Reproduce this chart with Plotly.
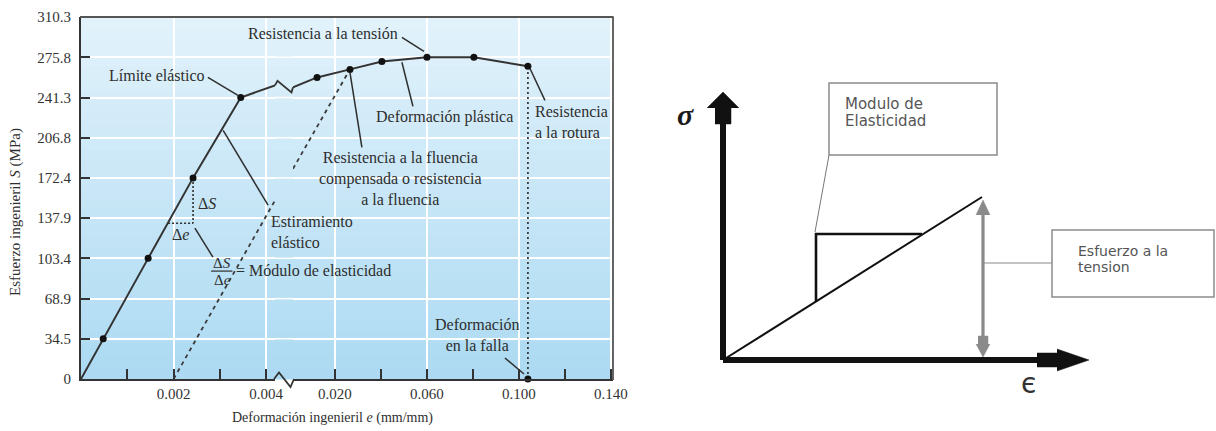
import plotly.graph_objects as go

W, H = 1216, 431

# ---------------- data: engineering stress-strain chart ----------------
stress_ticks = [0, 34.5, 68.9, 103.4, 137.9, 172.4, 206.8, 241.3, 275.8, 310.3]
stress_tick_labels = ["0", "34.5", "68.9", "103.4", "137.9", "172.4", "206.8", "241.3", "275.8", "310.3"]
strain_ticks_low = [0.002, 0.004]
strain_labels_low = ["0.002", "0.004"]
strain_minor_low = [0.001, 0.003]
strain_ticks_high = [0.020, 0.060, 0.100, 0.140]
strain_labels_high = ["0.020", "0.060", "0.100", "0.140"]
strain_minor_high = [0.040, 0.080, 0.120]

# curve before the axis break (elastic part)
elastic_strain = [0, 0.00048, 0.00145, 0.00242, 0.00345, 0.00419]
elastic_stress = [0, 34.5, 103.4, 172.4, 241.3, 251.7]
# curve after the axis break (plastic part)
plastic_strain = [0.00174, 0.0122, 0.0265, 0.0404, 0.060, 0.0804, 0.1039]
plastic_stress = [250.0, 258.5, 265.4, 272.2, 275.8, 275.8, 268.0]
# failure strain point on the axis
failure_strain = [0.1039]
failure_stress = [0]
# 0.2 % offset line (dashed), split by the break
offset_strain_low = [0.002, 0.00419]
offset_stress_low = [0, 153.1]
offset_strain_high = [0.00174, 0.0265]
offset_stress_high = [180.2, 265.4]

# axis ranges
low_range = [0, 0.00419]
high_range = [0.00174, 0.1409]
stress_range = [0, 310.3]

# ---------------- schematic (right panel), in diagram units ----------------
SCH_line_x = [0, 259]
SCH_line_y = [0, 163]

SERIF = "Liberation Serif"
SANS = "DejaVu Sans"
INK = "#2e2e2e"


def pxx(x):
    return x / W


def pxy(y):
    return 1 - y / H


fig = go.Figure()


def line(xs, ys, xa="x", ya="y", color=INK, width=1.6, dash="solid"):
    fig.add_trace(go.Scatter(x=xs, y=ys, xaxis=xa, yaxis=ya, mode="lines",
                             line=dict(color=color, width=width, dash=dash),
                             hoverinfo="skip", showlegend=False))


def poly(xs, ys, color, xa="x3", ya="y3"):
    fig.add_trace(go.Scatter(x=xs, y=ys, xaxis=xa, yaxis=ya, mode="lines", fill="toself",
                             fillcolor=color, line=dict(color=color, width=0.5),
                             hoverinfo="skip", showlegend=False))


# background gradient bands for the plot area
N = 30
top_c = (226, 242, 251)
bot_c = (172, 218, 242)
y0p, y1p = 17, 379
shapes = []
for i in range(N):
    t = (i + 0.5) / N
    c = tuple(int(round(top_c[k] + (bot_c[k] - top_c[k]) * t)) for k in range(3))
    ya = y0p + (y1p - y0p) * i / N
    yb = y0p + (y1p - y0p) * (i + 1) / N + 0.6
    shapes.append(dict(type="rect", xref="paper", yref="paper", layer="below",
                       x0=pxx(81), x1=pxx(613), y0=pxy(yb), y1=pxy(ya),
                       fillcolor="rgb(%d,%d,%d)" % c, line=dict(width=0)))
# horizontal grid lines continuing through the axis-break gap
for v in stress_ticks[1:]:
    shapes.append(dict(type="line", xref="paper", yref="y", layer="below",
                       x0=pxx(274), x1=pxx(294), y0=v, y1=v,
                       line=dict(color="white", width=1.5)))

# top and right frame
shapes.append(dict(type="line", xref="paper", yref="paper", x0=pxx(80), x1=pxx(613.5),
                   y0=pxy(17), y1=pxy(17), line=dict(color="#555", width=1.8)))
shapes.append(dict(type="line", xref="paper", yref="paper", x0=pxx(613), x1=pxx(613),
                   y0=pxy(17), y1=pxy(380), line=dict(color="#555", width=1.8)))
# axis break symbol on the strain axis
shapes.append(dict(type="path", xref="paper", yref="paper",
                   path="M %f,%f L %f,%f L %f,%f L %f,%f" % (
                       pxx(274), pxy(379), pxx(279), pxy(372.5),
                       pxx(290.5), pxy(387), pxx(294), pxy(379)),
                   line=dict(color="#333", width=1.8)))
# break symbol on the curve
shapes.append(dict(type="path", xref="paper", yref="y",
                   path="M %f,%f L %f,%f L %f,%f L %f,%f" % (
                       pxx(275), elastic_stress[-1], pxx(277.5), 255.5,
                       pxx(291.5), 245.6, pxx(293), plastic_stress[0]),
                   line=dict(color="#333", width=1.8)))

# ---- left chart traces ----
line(offset_strain_low, offset_stress_low, "x", color="#3a3a3a", width=1.8, dash="4px,4px")
line(offset_strain_high, offset_stress_high, "x2", color="#3a3a3a", width=1.8, dash="4px,4px")
line([failure_strain[0], plastic_strain[-1]], [failure_stress[0], plastic_stress[-1]], "x2",
     color="#3a3a3a", width=1.8, dash="2px,3px")
# delta triangle (dotted)
line([elastic_strain[3], elastic_strain[3]], [elastic_stress[3], 133.5], "x", width=1.6, dash="2px,2px")
line([0.00188, elastic_strain[3]], [133.5, 133.5], "x", width=1.6, dash="2px,2px")

line(elastic_strain, elastic_stress, "x", color="#333", width=2)
line(plastic_strain, plastic_stress, "x2", color="#333", width=2)

fig.add_trace(go.Scatter(x=elastic_strain[1:5], y=elastic_stress[1:5], xaxis="x", yaxis="y",
                         mode="markers", marker=dict(color="#111", size=7),
                         hoverinfo="skip", showlegend=False))
fig.add_trace(go.Scatter(x=plastic_strain[1:] + failure_strain, y=plastic_stress[1:] + failure_stress,
                         xaxis="x2", yaxis="y", mode="markers", marker=dict(color="#111", size=7),
                         hoverinfo="skip", showlegend=False, cliponaxis=False))

# leader lines
line([0.00274, 0.00339], [258.5, 243.1], "x", width=1.5)              # Limite elastico
line([0.0491, 0.0587], [292.8, 280.8], "x2", width=1.5)               # tension
line([0.0491, 0.0539], [271.5, 233.7], "x2", width=1.5)               # plastica
line([0.1048, 0.1113], [266.2, 238.8], "x2", width=1.5)               # rotura
line([0.0265, 0.0317], [262.9, 198.6], "x2", width=1.5)               # fluencia
line([0.00307, 0.00404], [213.2, 149.0], "x", width=1.5)              # estiramiento
line([0.00246, 0.00285], [129.3, 104.4], "x", width=1.5)              # modulo
line([0.00281, 0.00327], [92.5, 92.5], "x", width=1.2)                # fraction bar
line([0.0939, 0.1022], [18.0, 4.3], "x2", width=1.5)                  # falla

annotations = []


def note(text, x, y, xref="x", yref="y", xanchor="center", yanchor="middle", align="center",
         size=16, family=SERIF, color=INK):
    annotations.append(dict(text=text, x=x, y=y, xref=xref, yref=yref, xanchor=xanchor,
                            yanchor=yanchor, align=align, showarrow=False,
                            font=dict(family=family, size=size, color=color)))


note("Límite elástico", 0.00272, 260.2, xanchor="right")
note("Resistencia a la tensión", 0.0483, 296.2, xref="x2", xanchor="right")
note("Deformación plástica", 0.0678, 224.3, xref="x2")
note("Resistencia<br>a la rotura", 0.1061, 220, xref="x2", xanchor="left", align="left")
note("Resistencia a la fluencia<br>compensada o resistencia<br>a la fluencia", 0.0487, 172.1, xref="x2")
note("Estiramiento<br>elástico", 0.00405, 125.8, xanchor="left", align="left")
note("Δ<i>S</i>", 0.00272, 150.7)
note("Δ<i>e</i>", 0.00214, 124.1)
note("Δ<i>S</i>", 0.00305, 99.6, size=15)
note("Δ<i>e</i>", 0.00305, 84.6, size=15)
note("= Módulo de elasticidad", 0.00330, 93.3, xanchor="left")
note("Deformación<br>en la falla", 0.0817, 37.7, xref="x2")
note("Deformación ingenieril <i>e</i> (mm/mm)", pxx(332), pxy(418), xref="paper", yref="paper", size=14)
note("Esfuerzo ingenieril <i>S</i> (MPa)", pxx(15), pxy(212), xref="paper", yref="paper", size=15)
annotations[-1]["textangle"] = -90

# ---- right schematic ----
BLACK = "#111"
GRAY = "#8a8a8a"
# stress axis with arrow
line([0, 0], [0, 240], "x3", "y3", color=BLACK, width=6)
poly([-8, 8, 8, -8], [236, 236, 254, 254], BLACK)
poly([-16, 0, 16], [252, 268, 252], BLACK)
# strain axis with arrow
line([0, 318], [0, 0], "x3", "y3", color=BLACK, width=6)
poly([314, 336, 336, 314], [-7, -7, 7, 7], BLACK)
poly([334, 366, 334], [-11, 0, 11], BLACK)
# elastic line and modulus triangle
line(SCH_line_x, SCH_line_y, "x3", "y3", color=BLACK, width=2)
line([93, 93, 199], [58.5, 126, 126], "x3", "y3", color=BLACK, width=2.6)
# connector to modulus box
line([92, 106], [128, 205], "x3", "y3", color="#777", width=1)
# stress double arrow
line([260, 260], [10, 150], "x3", "y3", color=GRAY, width=3.2)
poly([253, 260, 267], [145, 160, 145], GRAY)
poly([253, 260, 267], [16, 3, 16], GRAY)
poly([255, 265, 265, 255], [14, 14, 24, 24], GRAY)
line([260, 329], [97, 97], "x3", "y3", color=GRAY, width=1.2)

shapes.append(dict(type="rect", xref="x3", yref="y3", x0=106, x1=274, y0=205, y1=277,
                   line=dict(color="#8c8c8c", width=1.5), fillcolor="white"))
shapes.append(dict(type="rect", xref="x3", yref="y3", x0=329, x1=491, y0=63, y1=130,
                   line=dict(color="#8c8c8c", width=1.5), fillcolor="white"))

note("Modulo de", 120, 256, xref="x3", yref="y3", xanchor="left", size=15, family=SANS, color="#555")
note("Elasticidad", 120, 239, xref="x3", yref="y3", xanchor="left", size=15, family=SANS, color="#555")
note("Esfuerzo a la", 353, 109, xref="x3", yref="y3", xanchor="left", size=14, family=SANS, color="#555")
note("tension", 353, 93, xref="x3", yref="y3", xanchor="left", size=14, family=SANS, color="#555")
note("<b><i>σ</i></b>", -38, 246, xref="x3", yref="y3", size=30, family=SERIF, color="#1a1a1a")
note("є", 305, -23, xref="x3", yref="y3", size=28, family=SANS, color="#333")

tickfont = dict(family=SERIF, size=15, color="#333")
axis_common = dict(showline=True, linecolor="#333", linewidth=2, ticks="inside", ticklen=10,
                   tickwidth=1.5, tickcolor="#333", showgrid=True, gridcolor="white",
                   gridwidth=1.5, zeroline=False, tickfont=tickfont, tickmode="array",
                   automargin=False)

fig.update_layout(
    width=W, height=H, margin=dict(l=0, r=0, t=0, b=0, autoexpand=False),
    paper_bgcolor="white", plot_bgcolor="rgba(0,0,0,0)", showlegend=False,
    xaxis=dict(domain=[pxx(81), pxx(275)], anchor="y", range=low_range,
               tickvals=strain_ticks_low, ticktext=strain_labels_low,
               minor=dict(tickmode="array", tickvals=strain_minor_low, ticks="inside", ticklen=10,
                          tickwidth=1.5, tickcolor="#333", showgrid=False),
               **axis_common),
    xaxis2=dict(domain=[pxx(293), pxx(613)], anchor="y", range=high_range,
                tickvals=strain_ticks_high, ticktext=strain_labels_high,
                minor=dict(tickmode="array", tickvals=strain_minor_high, ticks="inside", ticklen=10,
                           tickwidth=1.5, tickcolor="#333", showgrid=False),
                **axis_common),
    yaxis=dict(domain=[pxy(379), pxy(17)], anchor="x", range=stress_range,
               tickvals=stress_ticks, ticktext=stress_tick_labels, ticklen=9,
               ticklabelstandoff=5,
               **{k: v for k, v in axis_common.items() if k != "ticklen"}),
    xaxis3=dict(domain=[pxx(660), 1], anchor="y3", range=[-63, 493], visible=False),
    yaxis3=dict(domain=[0, 1], anchor="x3", range=[-71, 360], visible=False),
    shapes=shapes, annotations=annotations,
)

fig.write_html("out.html", config={"displayModeBar": False},
               post_script="document.body.style.margin='0';document.body.style.overflow='hidden';")
